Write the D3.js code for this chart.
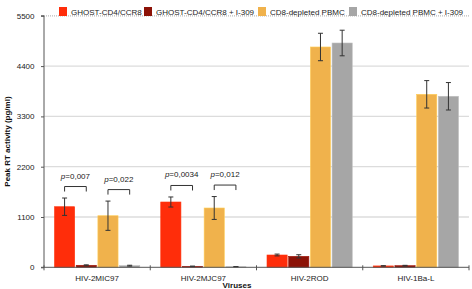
<!DOCTYPE html>
<html><head><meta charset="utf-8">
<script src="https://cdn.jsdelivr.net/npm/d3@7"></script>
<style>body{margin:0;background:#fff}svg{display:block;font-family:"Liberation Sans",Arial,sans-serif}</style>
</head><body><svg id="c" width="472" height="289"></svg>
<script>
const viruses = ["HIV-2MIC97","HIV-2MJC97","HIV-2ROD","HIV-1Ba-L"];
const seriesNames = ["GHOST-CD4/CCR8","GHOST-CD4/CCR8 + I-309","CD8-depleted PBMC","CD8-depleted PBMC + I-309"];
const seriesColors = ["#ff2d0a","#8c1207","#f0b24c","#a6a6a6"];
const ghost = [1325, 1428, 269, 30];
const ghostErr = [190, 110, 20, 5];
const ghostI309 = [44, 22, 240, 35];
const ghostI309Err = [10, 5, 35, 8];
const pbmc = [1128, 1297, 4818, 3783];
const pbmcErr = [320, 250, 300, 300];
const pbmcI309 = [35, 12, 4905, 3740];
const pbmcI309Err = [10, 5, 280, 300];
const yTicks = [0, 1100, 2200, 3300, 4400, 5500];
const pvalues = [
  {virus:"HIV-2MIC97", a:0, b:1, label:"0,007"},
  {virus:"HIV-2MIC97", a:2, b:3, label:"0,022"},
  {virus:"HIV-2MJC97", a:0, b:1, label:"0,0034"},
  {virus:"HIV-2MJC97", a:2, b:3, label:"0,012"}
];

const values = [ghost, ghostI309, pbmc, pbmcI309];
const errs = [ghostErr, ghostI309Err, pbmcErr, pbmcI309Err];

const svg = d3.select("#c");
const L = 44, R = 469, T = 15.8, B = 267.3;
const y = d3.scaleLinear().domain([0,5500]).range([B,T]);
const x0 = d3.scaleBand().domain(viruses).range([L,R]);
const x1 = d3.scaleBand().domain(d3.range(4)).range([10.5, x0.bandwidth()-10.5]).paddingInner(0.07);

// grid
svg.append("g").selectAll("line").data(yTicks.filter(d=>d>0)).join("line")
  .attr("x1",L).attr("x2",R).attr("y1",d=>y(d)).attr("y2",d=>y(d))
  .attr("stroke",d=>d===5500?"#bbb":"#dcdcdc").attr("stroke-width",1.3)
  .attr("stroke-dasharray",d=>d===5500?"1,1":null);

// bars
const g = svg.append("g");
viruses.forEach((v,i)=>{
  values.forEach((arr,s)=>{
    const bx = x0(v)+x1(s);
    g.append("rect").attr("x",bx).attr("width",x1.bandwidth())
      .attr("y",y(arr[i])).attr("height",B-y(arr[i]))
      .attr("fill",seriesColors[s]).attr("stroke",d3.color(seriesColors[s]).brighter(0.4)).attr("stroke-width",0.6);
  });
});
// error bars
viruses.forEach((v,i)=>{
  values.forEach((arr,s)=>{
    const cx = x0(v)+x1(s)+x1.bandwidth()/2;
    const hi = y(arr[i]+errs[s][i]), lo = y(Math.max(0,arr[i]-errs[s][i]));
    g.append("line").attr("x1",cx).attr("x2",cx).attr("y1",hi).attr("y2",lo).attr("stroke","#333").attr("stroke-width",1);
    [hi,lo].forEach(yy=>g.append("line").attr("x1",cx-2.5).attr("x2",cx+2.5).attr("y1",yy).attr("y2",yy).attr("stroke","#333").attr("stroke-width",1));
  });
});

// y axis
const ya = svg.append("g").attr("transform",`translate(${L},0)`)
  .call(d3.axisLeft(y).tickValues(yTicks).tickSize(3).tickPadding(6.5).tickFormat(d3.format("d")));
ya.select(".domain").attr("stroke","#555").attr("d",`M-3,${T}H0V${B}`);
ya.selectAll(".tick line").attr("stroke","#555");
ya.selectAll("text").attr("font-size",8).attr("fill","#222").attr("font-family","Liberation Sans, Arial, sans-serif");

// x axis
const xa = svg.append("g").attr("transform",`translate(0,${B})`);
xa.append("line").attr("x1",L-3).attr("x2",R).attr("stroke","#555");
xa.selectAll(".tk").data(viruses.map(v=>x0(v)).concat([R])).join("line")
  .attr("x1",d=>d).attr("x2",d=>d).attr("y1",-2).attr("y2",3).attr("stroke","#555");
xa.selectAll(".lb").data(viruses).join("text")
  .attr("x",d=>x0(d)+x0.bandwidth()/2).attr("y",14).attr("text-anchor","middle")
  .attr("font-size",8).attr("fill","#222").text(d=>d);

svg.append("text").attr("x",237).attr("y",288).attr("text-anchor","middle")
  .attr("font-size",8).attr("font-weight","bold").attr("fill","#111").text("Viruses");
svg.append("text").attr("transform",`translate(10,${(T+B)/2}) rotate(-90)`).attr("text-anchor","middle")
  .attr("font-size",8).attr("font-weight","bold").attr("fill","#111").text("Peak RT activity (pg/ml)");

// p-value brackets
pvalues.forEach(p=>{
  const i = viruses.indexOf(p.virus);
  const ca = x0(p.virus)+x1(p.a)+x1.bandwidth()/2, cb = x0(p.virus)+x1(p.b)+x1.bandwidth()/2;
  const top = Math.min(y(values[p.a][i]+errs[p.a][i]), y(values[p.b][i]+errs[p.b][i])) - 11.5;
  svg.append("path").attr("d",`M${ca},${top+5}V${top}H${cb}V${top+5}`).attr("fill","none").attr("stroke","#333").attr("stroke-width",1);
  const t = svg.append("text").attr("x",(ca+cb)/2).attr("y",top-8).attr("text-anchor","middle").attr("font-size",8).attr("fill","#222");
  t.append("tspan").attr("font-style","italic").text("p");
  t.append("tspan").text("="+p.label);
});

// legend
const legX = [59, 144, 258, 349];
const lg = svg.append("g");
seriesNames.forEach((n,s)=>{
  lg.append("rect").attr("x",legX[s]).attr("y",7).attr("width",8).attr("height",9).attr("fill",seriesColors[s]);
  lg.append("text").attr("x",legX[s]+12).attr("y",15).attr("font-size",8).attr("fill","#222").text(n);
});
</script></body></html>
